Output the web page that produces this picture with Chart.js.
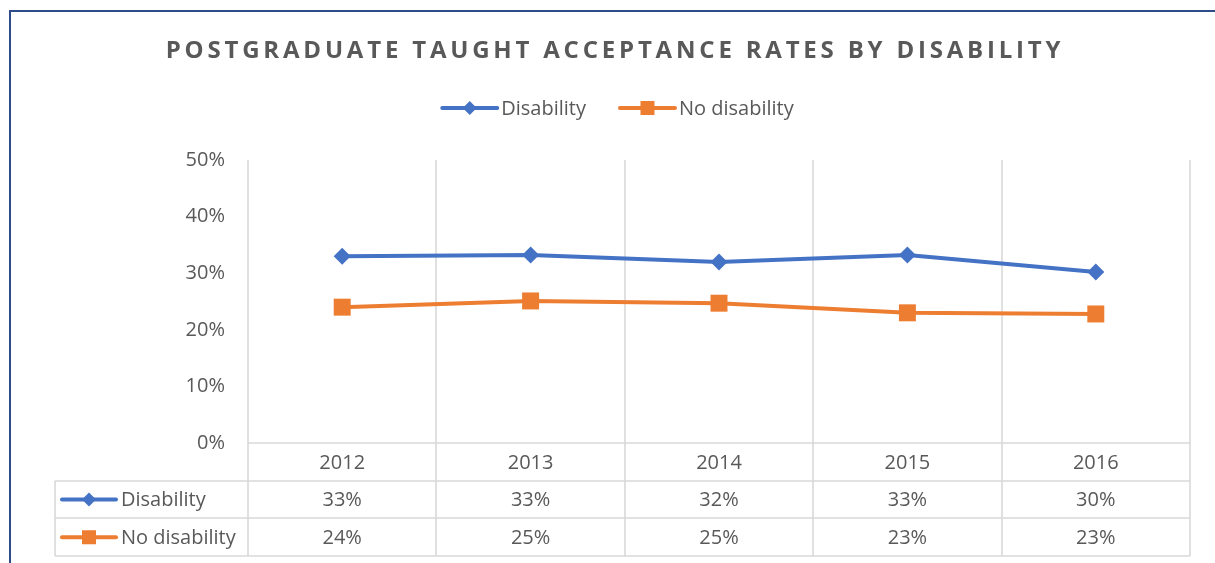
<!DOCTYPE html>
<html>
<head>
<meta charset="utf-8">
<script src="https://cdn.jsdelivr.net/npm/chart.js@4/dist/chart.umd.min.js"></script>
<style>
  html, body { margin: 0; padding: 0; background: #ffffff; }
  #wrap { position: relative; width: 1215px; height: 563px; }
</style>
</head>
<body>
<div id="wrap"><canvas id="c" width="1215" height="563"></canvas></div>
<script>
const title = 'POSTGRADUATE TAUGHT ACCEPTANCE RATES BY DISABILITY';
const categories = ['2012', '2013', '2014', '2015', '2016'];
const disability = [33.0, 33.2, 32.0, 33.2, 30.2];
const noDisability = [24.0, 25.1, 24.7, 23.0, 22.8];
const yTicks = [0, 10, 20, 30, 40, 50];
const seriesNames = ['Disability', 'No disability'];

const BLUE = '#4472C4';
const ORANGE = '#ED7D31';
const TEXT = '#595959';
const GRID = '#D9D9D9';
const FONT = '"Open Sans", "Liberation Sans", sans-serif';

function marker(ctx, style, x, y, r, color) {
  ctx.save();
  ctx.fillStyle = color;
  ctx.beginPath();
  if (style === 'rectRot') {
    ctx.moveTo(x, y - r); ctx.lineTo(x + r, y); ctx.lineTo(x, y + r); ctx.lineTo(x - r, y);
    ctx.closePath();
  } else {
    ctx.rect(x - r, y - r, 2 * r, 2 * r);
  }
  ctx.fill();
  ctx.restore();
}
function legendSymbol(ctx, x1, x2, y, color, style, r) {
  ctx.save();
  ctx.strokeStyle = color; ctx.lineWidth = 4; ctx.lineCap = 'round';
  ctx.beginPath(); ctx.moveTo(x1, y); ctx.lineTo(x2, y); ctx.stroke();
  ctx.restore();
  marker(ctx, style, (x1 + x2) / 2, y, r, color);
}

const seriesStyles = [
  { color: BLUE, style: 'rectRot', legR: 7 },
  { color: ORANGE, style: 'rect', legR: 7 }
];

const tablePlugin = {
  id: 'tablePlugin',
  beforeDatasetsDraw(chart) {
    const ctx = chart.ctx;
    const ca = chart.chartArea;
    const n = categories.length;
    const w = (ca.right - ca.left) / n;
    const rowH = 37.7;
    const tableLeft = 55;
    const bottomEdge = ca.bottom + rowH * 3;
    ctx.save();
    // outer frame
    ctx.strokeStyle = '#2E4C8A';
    ctx.lineWidth = 2;
    ctx.beginPath();
    ctx.moveTo(10, 600); ctx.lineTo(10, 11); ctx.lineTo(1230, 11);
    ctx.stroke();
    ctx.strokeStyle = GRID;
    ctx.lineWidth = 1.6;
    ctx.beginPath();
    for (let i = 0; i <= n; i++) {
      const xb = Math.round(ca.left + i * w);
      ctx.moveTo(xb, ca.top); ctx.lineTo(xb, bottomEdge);
    }
    ctx.moveTo(ca.left, ca.bottom); ctx.lineTo(ca.right, ca.bottom);
    for (let r = 1; r <= 3; r++) {
      const yy = Math.round(ca.bottom + r * rowH);
      ctx.moveTo(tableLeft, yy); ctx.lineTo(ca.right, yy);
    }
    ctx.moveTo(tableLeft, Math.round(ca.bottom + rowH)); ctx.lineTo(tableLeft, bottomEdge);
    ctx.stroke();
    ctx.restore();
  },
  afterDraw(chart) {
    const ctx = chart.ctx;
    const ca = chart.chartArea;
    const x = chart.scales.x;
    const rowH = 37.7;
    ctx.save();
    // title
    ctx.fillStyle = TEXT;
    ctx.font = 'bold 24px ' + FONT;
    ctx.textAlign = 'center';
    ctx.textBaseline = 'alphabetic';
    try { ctx.letterSpacing = '3.8px'; } catch (e) {}
    ctx.fillText(title, 615, 58);
    try { ctx.letterSpacing = '0px'; } catch (e) {}

    // top legend
    ctx.font = '20px ' + FONT;
    ctx.textAlign = 'left';
    ctx.textBaseline = 'middle';
    const lineLen = 55, gap = 4, itemGap = 34;
    const widths = seriesNames.map(s => ctx.measureText(s).width);
    let total = 0;
    widths.forEach((tw, i) => { total += lineLen + gap + tw + (i < widths.length - 1 ? itemGap : 0); });
    let lx = 618 - total / 2;
    const ly = 108;
    seriesNames.forEach((s, i) => {
      legendSymbol(ctx, lx, lx + lineLen, ly, seriesStyles[i].color, seriesStyles[i].style, seriesStyles[i].legR);
      ctx.fillStyle = TEXT;
      ctx.fillText(s, lx + lineLen + gap, ly + 1);
      lx += lineLen + gap + widths[i] + itemGap;
    });

    // table text
    ctx.textAlign = 'center';
    categories.forEach((c, i) => {
      const cx = x.getPixelForValue(i);
      ctx.fillStyle = TEXT;
      ctx.fillText(c, cx, ca.bottom + rowH * 0.5 + 1);
      ctx.fillText(Math.round(disability[i]) + '%', cx, ca.bottom + rowH * 1.5 + 1);
      ctx.fillText(Math.round(noDisability[i]) + '%', cx, ca.bottom + rowH * 2.5 + 1);
    });
    // table row headers
    ctx.textAlign = 'left';
    seriesNames.forEach((s, i) => {
      const yy = ca.bottom + rowH * (1.5 + i);
      legendSymbol(ctx, 62, 116, yy, seriesStyles[i].color, seriesStyles[i].style, seriesStyles[i].legR);
      ctx.fillStyle = TEXT;
      ctx.fillText(s, 121, yy + 1);
    });
    ctx.restore();
  }
};

new Chart(document.getElementById('c'), {
  type: 'line',
  data: {
    labels: categories,
    datasets: [
      {
        label: seriesNames[0], data: disability,
        borderColor: BLUE, backgroundColor: BLUE, borderWidth: 4,
        pointStyle: 'rectRot', pointRadius: 8.5, pointBorderWidth: 0,
        pointBackgroundColor: BLUE, tension: 0
      },
      {
        label: seriesNames[1], data: noDisability,
        borderColor: ORANGE, backgroundColor: ORANGE, borderWidth: 4,
        pointStyle: 'rect', pointRadius: 12, pointBorderWidth: 0,
        pointBackgroundColor: ORANGE, tension: 0
      }
    ]
  },
  options: {
    responsive: false,
    animation: false,
    layout: { padding: { left: 10, right: 25, top: 160, bottom: 120 } },
    plugins: { legend: { display: false }, title: { display: false }, tooltip: { enabled: false } },
    scales: {
      x: { display: false, offset: true },
      y: {
        min: yTicks[0], max: yTicks[yTicks.length - 1],
        afterBuildTicks: s => { s.ticks = yTicks.map(v => ({ value: v })); },
        afterFit: s => { s.width = 238; },
        grid: { display: false, drawTicks: false },
        border: { display: false },
        ticks: {
          padding: 23, color: TEXT,
          font: { family: FONT, size: 20 },
          callback: v => v + '%'
        }
      }
    }
  },
  plugins: [tablePlugin]
});
</script>
</body>
</html>
